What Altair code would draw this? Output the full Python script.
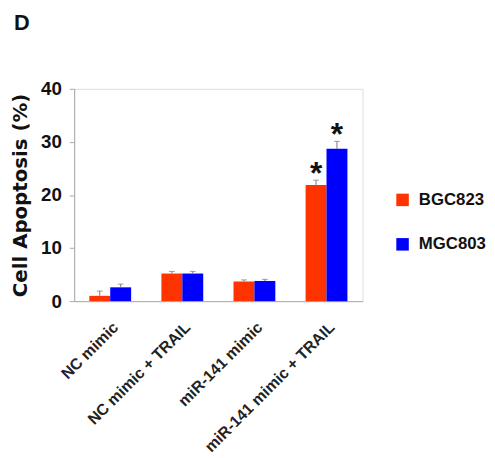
import altair as alt
import pandas as pd

categories = ["NC mimic", "NC mimic + TRAIL", "miR-141 mimic", "miR-141 mimic + TRAIL"]
series = ["BGC823", "MGC803"]
bgc823 = [1.0, 5.2, 3.7, 21.9]
mgc803 = [2.6, 5.2, 3.8, 28.7]
bgc823_err = [0.9, 0.4, 0.3, 0.9]
mgc803_err = [0.6, 0.4, 0.3, 1.4]
stars = [["", ""], ["", ""], ["", ""], ["*", "*"]]
colors = ["#FF3300", "#0000FF"]

rows = []
for i, c in enumerate(categories):
    for j, (s, vals, errs) in enumerate([(series[0], bgc823, bgc823_err), (series[1], mgc803, mgc803_err)]):
        rows.append({"cat": c, "series": s, "value": vals[i], "upper": vals[i] + errs[i], "star": stars[i][j]})
df = pd.DataFrame(rows)

FONT = "Liberation Sans"

x = alt.X("cat:N", sort=categories, title=None,
          scale=alt.Scale(paddingInner=0.42, paddingOuter=0.21),
          axis=alt.Axis(labelAngle=-45, labelFontSize=16, labelFontWeight="bold",
                        labelColor="#222222", labelFont=FONT, ticks=False,
                        labelPadding=18, domainColor="#aaaaaa", labelLimit=300))
xo = alt.XOffset("series:N", sort=series)

base = alt.Chart(df)

bars = base.mark_bar().encode(
    x=x, xOffset=xo,
    y=alt.Y("value:Q", scale=alt.Scale(domain=[0, 40]), title="Cell Apoptosis (%)",
            axis=alt.Axis(values=[0, 10, 20, 30, 40], grid=False, labelFontSize=19,
                          labelFontWeight="bold", labelColor="#111111", labelFont=FONT,
                          titleFontSize=20, titleFontWeight="bold", titleFont="DejaVu Sans",
                          titleColor="#111111", domainColor="#aaaaaa", tickColor="#aaaaaa",
                          tickSize=5, labelPadding=8, titlePadding=10)),
    color=alt.Color("series:N", sort=series,
                    scale=alt.Scale(domain=series, range=colors),
                    legend=alt.Legend(title=None, orient="none", legendX=324, legendY=104,
                                      symbolType="square", symbolSize=160, symbolStrokeWidth=0,
                                      labelFontSize=17, labelFontWeight="bold", labelFont=FONT,
                                      labelColor="#111111", rowPadding=27, labelOffset=8)),
)

err = base.mark_rule(color="#777777", strokeWidth=1).encode(
    x=x, xOffset=xo, y="value:Q", y2="upper:Q")

cap = base.mark_tick(color="#777777", thickness=1, size=6, orient="horizontal").encode(
    x=x, xOffset=xo, y="upper:Q")

star = base.mark_text(fontSize=32, fontWeight="bold", font=FONT, dy=11, baseline="bottom",
                      color="#111111").encode(
    x=x, xOffset=xo, y="upper:Q", text="star:N")

label_d = alt.Chart(pd.DataFrame({"t": ["D"]})).mark_text(
    fontSize=22, fontWeight="bold", font=FONT, align="left", baseline="top", color="#111111"
).encode(x=alt.value(-61), y=alt.value(-77), text="t:N")

chart = alt.layer(bars, err, cap, star, label_d).properties(
    width=292, height=215,
    autosize=alt.AutoSizeParams(type="none"),
    padding={"left": 67, "top": 79, "right": 126, "bottom": 154},
).configure_view(stroke=None).configure(background="white")

chart.save("out.html", embed_options={"renderer": "svg", "actions": False})
